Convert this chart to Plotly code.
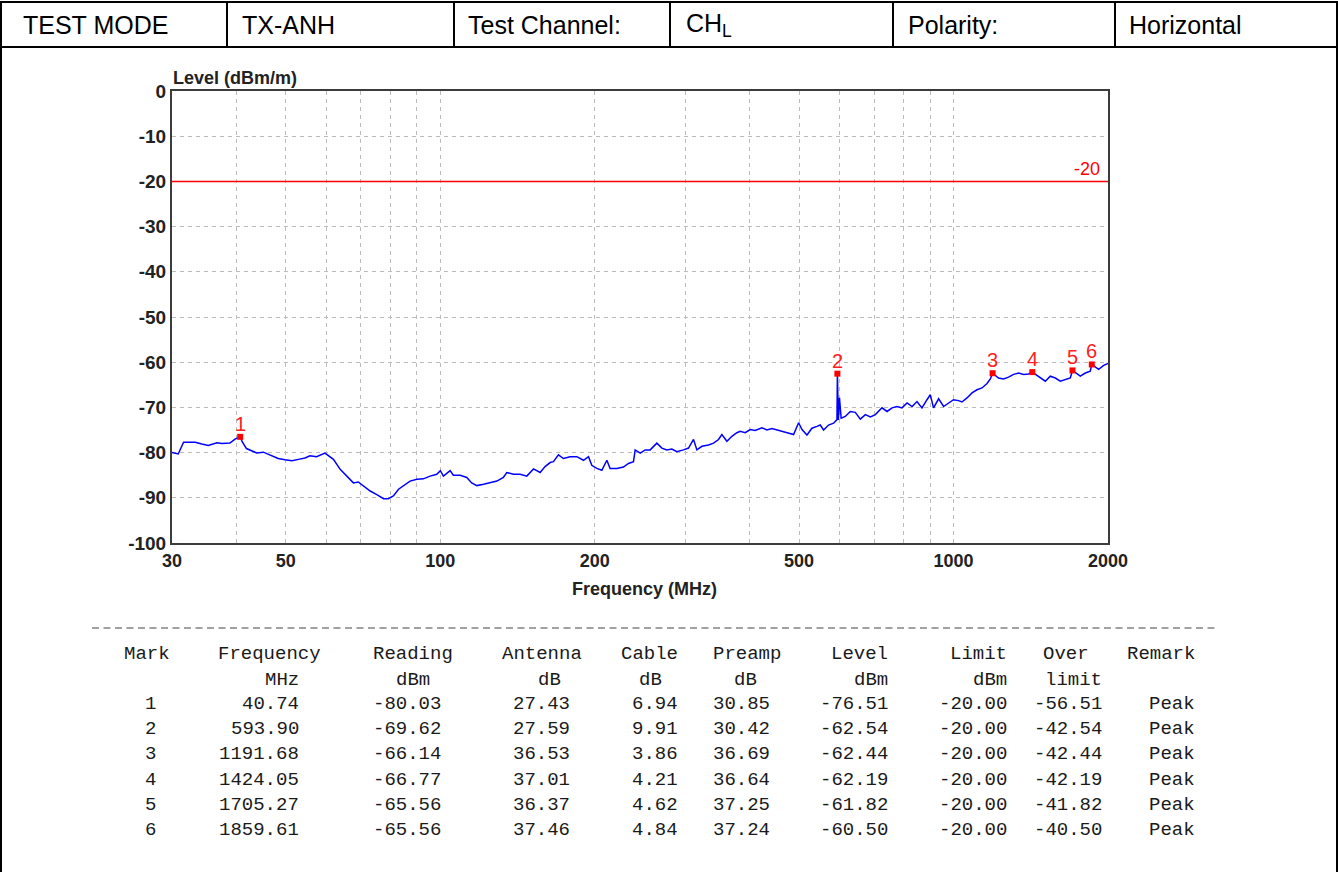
import math
import plotly.graph_objects as go

# ---------------- data ----------------
freq_mhz = [30.0, 30.2, 30.85, 31.6, 33.3, 34.3, 35.3, 36.7, 37.5, 38.9, 39.8, 40.74, 41.1, 41.9,
            42.9, 43.9, 45.2, 46.9, 48.3, 49.8, 51.4, 52.9, 54.5, 55.7, 57.4, 59.6, 61.0, 61.9,
            63.8, 65.7, 67.7, 69.2, 70.8, 73.0, 75.2, 77.5, 79.2, 81.0, 82.9, 84.7, 87.3, 90.0,
            92.7, 95.5, 98.4, 100.0, 101.4, 104.5, 106.0, 109.3, 112.6, 115.1, 117.8, 121.4,
            125.1, 128.9, 132.7, 134.7, 138.8, 143.1, 147.4, 151.9, 156.5, 160.0, 163.7, 166.1,
            169.9, 173.7, 179.0, 184.5, 190.1, 194.4, 197.3, 201.8, 206.4, 211.1, 214.2, 220.8,
            227.4, 232.6, 237.9, 239.7, 245.2, 250.7, 256.4, 264.2, 270.2, 276.3, 282.6, 289.0,
            297.7, 304.5, 311.4, 316.2, 323.4, 333.1, 340.7, 348.4, 353.7, 361.8, 369.9, 378.3,
            384.0, 392.7, 401.7, 410.7, 423.3, 432.9, 442.8, 452.7, 466.5, 477.1, 487.9, 499.0,
            506.7, 518.0, 529.8, 541.8, 549.9, 558.2, 570.9, 583.9, 592.8, 593.9, 596.5, 599.5,
            604.0, 615.3, 629.2, 643.6, 658.3, 673.3, 688.6, 704.2, 725.5, 742.2, 759.0, 775.9,
            793.6, 811.9, 830.4, 848.8, 868.0, 887.8, 900.9, 914.4, 935.3, 956.5, 978.4, 1000.0,
            1023.0, 1038.6, 1062.3, 1086.6, 1111.0, 1136.4, 1162.2, 1179.6, 1191.68, 1224.0,
            1252.0, 1280.0, 1309.5, 1339.0, 1369.6, 1400.0, 1424.05, 1476.0, 1509.7, 1543.7,
            1579.0, 1614.8, 1651.3, 1688.8, 1705.27, 1766.0, 1806.6, 1847.0, 1859.61, 1917.8,
            1961.5, 2000.0]
level_dbm = [-80.0, -80.1, -80.3, -77.7, -77.7, -78.1, -78.4, -77.8, -78.0, -77.9, -77.0, -76.51,
             -77.6, -79.1, -79.6, -80.1, -79.9, -80.6, -81.3, -81.6, -81.8, -81.5, -81.2, -80.7,
             -80.9, -80.1, -81.0, -81.5, -83.7, -85.2, -86.7, -86.5, -87.4, -88.5, -89.3, -90.2,
             -90.2, -89.6, -88.1, -87.4, -86.3, -85.9, -85.8, -85.2, -84.8, -84.0, -85.2, -84.0,
             -85.0, -85.0, -85.5, -86.7, -87.3, -87.0, -86.6, -86.3, -85.5, -84.4, -84.8, -84.8,
             -85.2, -83.6, -84.4, -83.1, -82.2, -82.0, -80.5, -81.3, -80.9, -80.9, -81.7, -80.9,
             -82.8, -83.5, -83.9, -81.7, -83.5, -83.5, -83.2, -82.4, -82.0, -79.4, -80.1, -79.4,
             -79.4, -77.9, -79.0, -79.4, -79.2, -79.8, -79.4, -79.0, -77.1, -79.4, -78.6, -78.3,
             -77.9, -77.1, -76.0, -77.5, -76.4, -75.6, -75.3, -75.6, -74.9, -75.1, -74.5, -75.0,
             -74.7, -75.0, -75.3, -75.6, -76.0, -73.4, -74.9, -76.1, -74.6, -74.2, -73.9, -75.0,
             -73.9, -73.5, -72.7, -62.54, -72.8, -67.9, -72.4, -72.0, -70.9, -71.1, -72.6, -71.6,
             -72.1, -71.6, -70.1, -70.9, -70.1, -69.8, -70.1, -69.0, -69.8, -68.7, -70.1, -68.3,
             -67.2, -70.1, -68.1, -69.8, -69.0, -68.3, -68.5, -68.8, -67.9, -66.8, -66.1, -65.7,
             -64.7, -63.7, -62.44, -63.5, -63.7, -63.3, -62.7, -62.4, -62.7, -62.6, -62.19, -63.5,
             -64.2, -63.1, -63.5, -64.2, -63.9, -63.5, -61.82, -63.1, -62.4, -62.0, -60.5, -61.6,
             -60.7, -60.3]

limit_dbm = -20

mark_no = ["1", "2", "3", "4", "5", "6"]
mark_freq = [40.74, 593.90, 1191.68, 1424.05, 1705.27, 1859.61]
mark_reading = [-80.03, -69.62, -66.14, -66.77, -65.56, -65.56]
mark_antenna = [27.43, 27.59, 36.53, 37.01, 36.37, 37.46]
mark_cable = [6.94, 9.91, 3.86, 4.21, 4.62, 4.84]
mark_preamp = [30.85, 30.42, 36.69, 36.64, 37.25, 37.24]
mark_level = [-76.51, -62.54, -62.44, -62.19, -61.82, -60.50]
mark_limit = [-20.00, -20.00, -20.00, -20.00, -20.00, -20.00]
mark_over = [-56.51, -42.54, -42.44, -42.19, -41.82, -40.50]
mark_remark = ["Peak", "Peak", "Peak", "Peak", "Peak", "Peak"]

x_tick_vals = [30, 50, 100, 200, 500, 1000, 2000]
x_tick_text = ["30", "50", "100", "200", "500", "1000", "2000"]
x_minor_vals = [40, 60, 70, 80, 90, 300, 400, 600, 700, 800, 900]
y_tick_vals = [0, -10, -20, -30, -40, -50, -60, -70, -80, -90, -100]
y_tick_text = ["0", "-10", "-20", "-30", "-40", "-50", "-60", "-70", "-80", "-90", "-100"]

header_cells = ["TEST MODE", "TX-ANH", "Test Channel:", "CH<sub>L</sub>", "Polarity:", "Horizontal"]

# ---------------- geometry helpers (pixel -> paper) ----------------
W, H = 1338, 872
PL, PR, PT, PB = 172, 1108, 91, 543


def px(x):
    return (x - PL) / (PR - PL)


def py(y):
    return (PB - y) / (PB - PT)


SANS = "Liberation Sans, Arial, sans-serif"
MONO = "Liberation Mono, DejaVu Sans Mono, monospace"

fig = go.Figure()

fig.add_trace(go.Scatter(x=freq_mhz, y=level_dbm, mode="lines",
                         line=dict(color="#0000ff", width=1.5), hoverinfo="skip"))
fig.add_trace(go.Scatter(x=[30, 2000], y=[limit_dbm, limit_dbm], mode="lines",
                         line=dict(color="#ff0000", width=1.5), hoverinfo="skip"))
fig.add_trace(go.Scatter(x=mark_freq, y=mark_level, mode="markers",
                         marker=dict(symbol="square", size=6, color="#ff0000"),
                         hoverinfo="skip"))

annotations = []
shapes = []

# marker numbers
for n, f, l in zip(mark_no, mark_freq, mark_level):
    annotations.append(dict(text=n, x=math.log10(f), y=l, xref="x", yref="y",
                            xanchor="center", yanchor="bottom", yshift=0, showarrow=False,
                            font=dict(family=SANS, size=20, color="#ff2020")))

# limit label
annotations.append(dict(text=str(limit_dbm), x=math.log10(1700), y=limit_dbm, xref="x", yref="y",
                        xanchor="left", yanchor="bottom", yshift=0, showarrow=False,
                        font=dict(family=SANS, size=18, color="#ff0000")))

# axis titles
annotations.append(dict(text="Level (dBm/m)", x=px(171), y=py(78), xref="paper", yref="paper",
                        xanchor="left", yanchor="middle", showarrow=False,
                        font=dict(family=SANS, size=18, color="#222", weight="bold")))
annotations.append(dict(text="Frequency (MHz)", x=px(644), y=py(589), xref="paper", yref="paper",
                        xanchor="center", yanchor="middle", showarrow=False,
                        font=dict(family=SANS, size=18, color="#222", weight="bold")))

# header row
col_edges = [1, 227, 454, 670, 893, 1115, 1337]
text_offsets = [20, 13, 12, 14, 13, 12]
for i, t in enumerate(header_cells):
    annotations.append(dict(text=t, x=px(col_edges[i] + text_offsets[i]), y=py(25),
                            xref="paper", yref="paper",
                            xanchor="left", yanchor="middle", showarrow=False,
                            font=dict(family=SANS, size=25, color="#000")))


def line(x0, y0, x1, y1, color="#000", width=2, dash=None):
    d = dict(type="line", xref="paper", yref="paper", x0=px(x0), y0=py(y0), x1=px(x1), y1=py(y1),
             line=dict(color=color, width=width))
    if dash:
        d["line"]["dash"] = dash
    shapes.append(d)


line(0, 2, 1338, 2)
line(0, 47, 1338, 47)
for e in col_edges[1:-1]:
    line(e, 2, e, 47)
line(1, 2, 1, 872)
line(1337, 2, 1337, 872)

# table separator
line(92, 628, 1218, 628, color="#444", width=1.2, dash="7px,4.5px")


# table cells
def cell(text, xr, y):
    annotations.append(dict(text=text, x=px(xr), y=py(y), xref="paper", yref="paper",
                            xanchor="right", yanchor="middle", showarrow=False,
                            font=dict(family=MONO, size=19, color="#1a1a1a")))


Y_HEAD, Y_UNIT = 654, 680
row_y = [704, 729, 754, 780, 805, 830]
columns = [
    ("Mark", 172, "", 172, 158, mark_no, None),
    ("Frequency", 323, "MHz", 301, 301, mark_freq, "{:.2f}"),
    ("Reading", 455, "dBm", 432, 443, mark_reading, "{:.2f}"),
    ("Antenna", 584, "dB", 563, 572, mark_antenna, "{:.2f}"),
    ("Cable", 680, "dB", 664, 680, mark_cable, "{:.2f}"),
    ("Preamp", 783, "dB", 759, 772, mark_preamp, "{:.2f}"),
    ("Level", 890, "dBm", 890, 890, mark_level, "{:.2f}"),
    ("Limit", 1009, "dBm", 1009, 1009, mark_limit, "{:.2f}"),
    ("Over", 1091, "limit", 1104, 1104, mark_over, "{:.2f}"),
    ("Remark", 1197, "", 1197, 1197, mark_remark, None),
]
for head, hx, unit, ux, vx, vals, fmt in columns:
    cell(head, hx, Y_HEAD)
    if unit:
        cell(unit, ux, Y_UNIT)
    for v, yy in zip(vals, row_y):
        cell(fmt.format(v) if fmt else v, vx, yy)

grid = dict(showgrid=True, gridcolor="#bcbcbc", gridwidth=1, griddash="4px,4px")

fig.update_layout(
    width=W, height=H, autosize=False,
    margin=dict(l=PL, r=W - PR, t=PT, b=H - PB, pad=0),
    paper_bgcolor="white", plot_bgcolor="white",
    showlegend=False,
    annotations=annotations, shapes=shapes,
    xaxis=dict(type="log", range=[math.log10(30), math.log10(2000)],
               tickvals=x_tick_vals, ticktext=x_tick_text, ticks="",
               tickfont=dict(family=SANS, size=18, color="#222", weight="bold"),
               showline=True, mirror=True, linecolor="#3c3c3c", linewidth=2, zeroline=False,
               minor=dict(tickvals=x_minor_vals, ticks="", **grid), **grid),
    yaxis=dict(range=[-100, 0], tickvals=y_tick_vals, ticktext=y_tick_text, ticks="",
               tickfont=dict(family=SANS, size=19, color="#222", weight="bold"),
               showline=True, mirror=True, linecolor="#3c3c3c", linewidth=2, zeroline=False,
               **grid),
)

fig.write_html("out.html", config={"displayModeBar": False},
               post_script="document.body.style.margin='0';")
